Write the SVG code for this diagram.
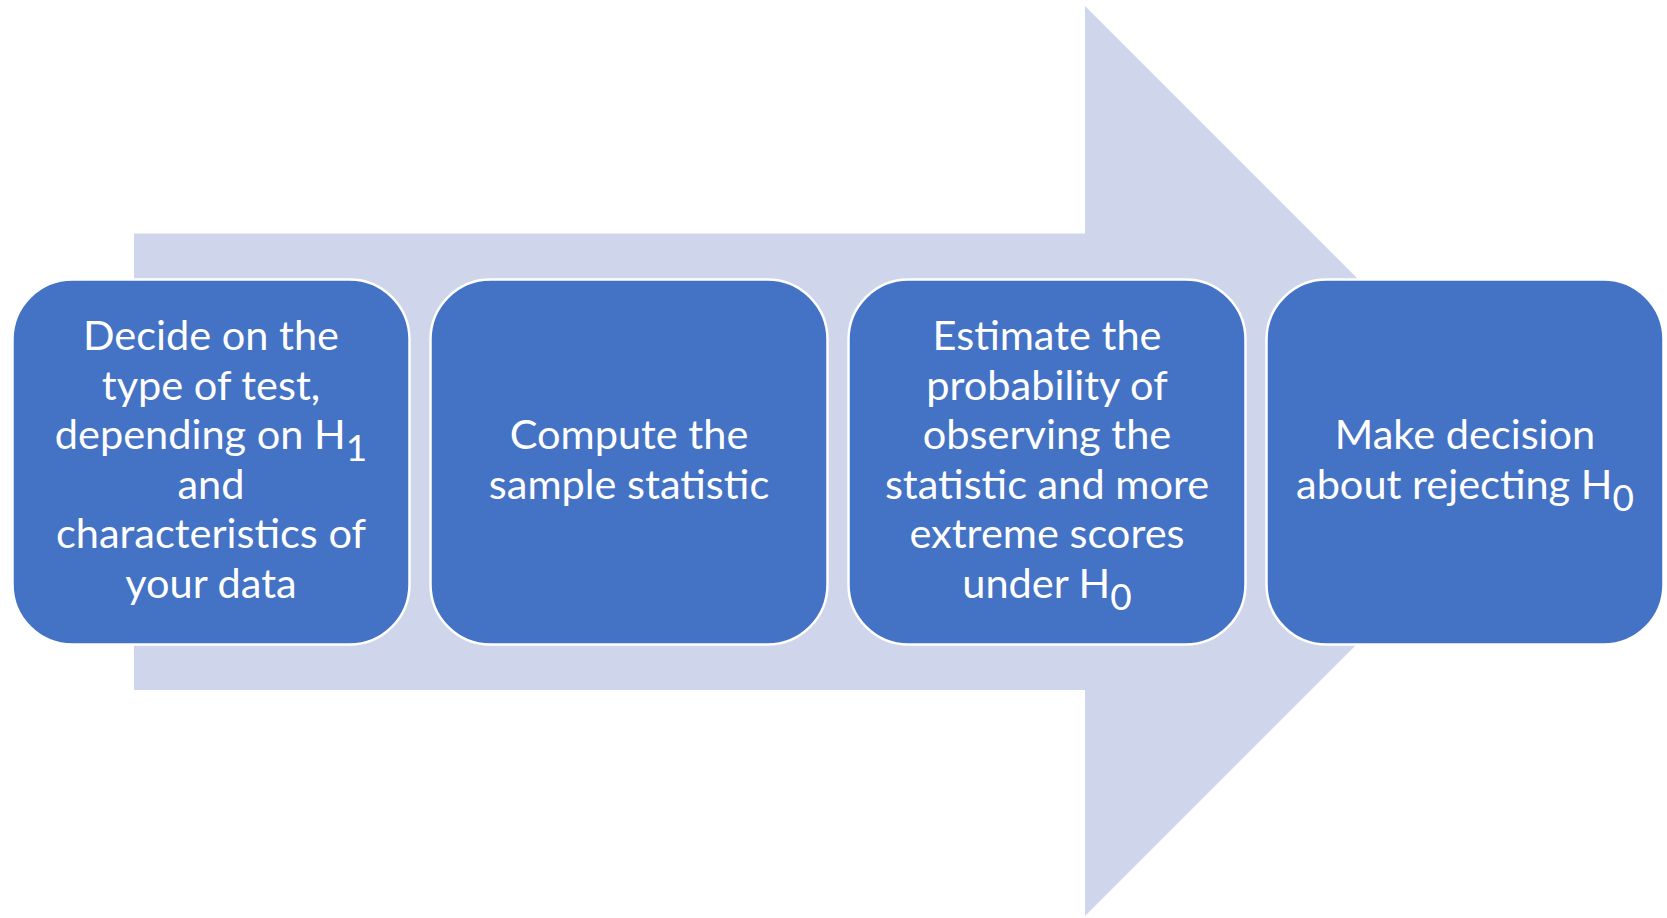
<svg xmlns="http://www.w3.org/2000/svg" width="1667" height="918" viewBox="0 0 1667 918">
  <style>
    .step { fill: #4472C4; stroke: #FFFFFF; stroke-width: 2.5; }
    .label { font-family: Lato, "Liberation Sans", sans-serif; font-size: 41.5px; fill: #FFFFFF; text-anchor: middle; }
    .sub { font-size: 37px; }
    .backdrop { fill: #CFD5EA; }
  </style>
  <rect width="1667" height="918" fill="#FFFFFF"/>

  <!-- large block arrow behind the process steps -->
  <g id="flow-arrow">
    <polygon class="backdrop" points="134,233.5 1085,233.5 1085,6 1540,461 1085,916 1085,690 134,690"/>
  </g>

  <g id="connectors"></g>

  <g id="step-1">
    <rect class="step" x="12.5" y="279.5" width="397" height="365" rx="60" ry="60"/>
    <text class="label" x="211" y="350">Decide on the</text>
    <text class="label" x="211" y="399.5">type of test,</text>
    <text class="label" x="211" y="449">depending on H<tspan class="sub" dy="12">1</tspan></text>
    <text class="label" x="211" y="498.5">and</text>
    <text class="label" x="211" y="548">characteristics of</text>
    <text class="label" x="211" y="597.5">your data</text>
  </g>

  <g id="step-2">
    <rect class="step" x="430.5" y="279.5" width="397" height="365" rx="60" ry="60"/>
    <text class="label" x="629" y="449">Compute the</text>
    <text class="label" x="629" y="498.5">sample statistic</text>
  </g>

  <g id="step-3">
    <rect class="step" x="848.5" y="279.5" width="397" height="365" rx="60" ry="60"/>
    <text class="label" x="1047" y="350">Estimate the</text>
    <text class="label" x="1047" y="399.5">probability of</text>
    <text class="label" x="1047" y="449">observing the</text>
    <text class="label" x="1047" y="498.5">statistic and more</text>
    <text class="label" x="1047" y="548">extreme scores</text>
    <text class="label" x="1047" y="597.5">under H<tspan class="sub" dy="12">0</tspan></text>
  </g>

  <g id="step-4">
    <rect class="step" x="1266.5" y="279.5" width="397" height="365" rx="60" ry="60"/>
    <text class="label" x="1465" y="449">Make decision</text>
    <text class="label" x="1465" y="498.5">about rejecting H<tspan class="sub" dy="12">0</tspan></text>
  </g>
</svg>
